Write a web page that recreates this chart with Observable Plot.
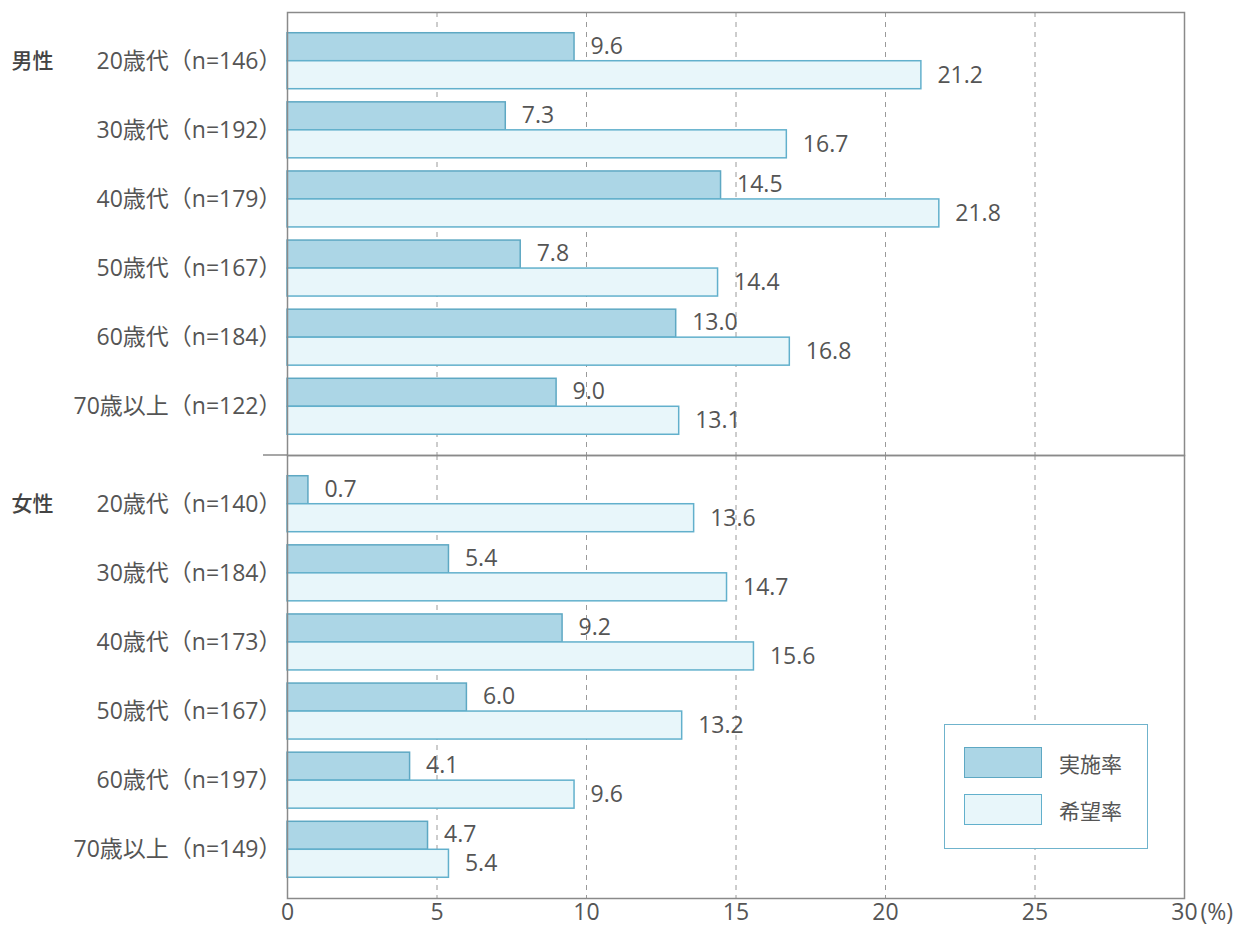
<!DOCTYPE html>
<html>
<head>
<meta charset="utf-8">
<script src="https://cdn.jsdelivr.net/npm/d3@7"></script>
<script src="https://cdn.jsdelivr.net/npm/@observablehq/plot@0.6"></script>
<style>
  html, body { margin: 0; padding: 0; background: #fff; }
  #wrap { position: relative; width: 1243px; height: 926px; font-family: "Open Sans", "Noto Sans CJK JP", sans-serif; color: #555; }
  #legend { position: absolute; left: 944px; top: 724px; width: 202px; height: 123px; border: 1.5px solid #6fb3cc; background: #fff; }
  .item { position: absolute; left: 19px; display: flex; align-items: center; font-size: 21px; font-family: "Noto Sans CJK JP", sans-serif; }
  .sw { width: 78px; height: 31px; box-sizing: border-box; margin-right: 17px; border: 1.5px solid #5ea8c3; }
</style>
</head>
<body>
<div id="wrap"><div id="legend"></div></div>
<script>
const genders = ["男性", "女性"];
const ages = ["20歳代", "30歳代", "40歳代", "50歳代", "60歳代", "70歳以上"];
const nMale = [146, 192, 179, 167, 184, 122];
const nFemale = [140, 184, 173, 167, 197, 149];
const implMale = [9.6, 7.3, 14.5, 7.8, 13.0, 9.0];
const hopeMale = [21.2, 16.7, 21.8, 14.4, 16.8, 13.1];
const implFemale = [0.7, 5.4, 9.2, 6.0, 4.1, 4.7];
const hopeFemale = [13.6, 14.7, 15.6, 13.2, 9.6, 5.4];
const seriesNames = ["実施率", "希望率"];
const xTicks = [0, 5, 10, 15, 20, 25, 30];
const gridTicks = [5, 10, 15, 20, 25];

const colors = {
  "実施率": {fill: "#acd6e6", stroke: "#5ea8c3"},
  "希望率": {fill: "#e8f6fa", stroke: "#62b0cc"}
};

const nBy = {"男性": nMale, "女性": nFemale};
const implBy = {"男性": implMale, "女性": implFemale};
const hopeBy = {"男性": hopeMale, "女性": hopeFemale};

const labels = [];
const implRows = [];
const hopeRows = [];
for (const g of genders) {
  ages.forEach((a, i) => {
    labels.push({gender: g, age: a, text: `${a}（n=${nBy[g][i]}）`});
    implRows.push({gender: g, age: a, value: implBy[g][i]});
    hopeRows.push({gender: g, age: a, value: hopeBy[g][i]});
  });
}

const FONT = "'Open Sans', 'Noto Sans CJK JP', sans-serif";
const W = 1243, H = 926, MT = 12, MB = 28, ML = 287, MR = 59;
const padInner = 0.19, padOuter = 0.3;
const facetH = (H - MT - MB) / genders.length;
const step = facetH / (ages.length - padInner + 2 * padOuter);
const bw = step * (1 - padInner);
const half = bw / 2;
const bottomFacet = genders[genders.length - 1];

const plot = Plot.plot({
  width: W, height: H,
  marginTop: MT, marginBottom: MB, marginLeft: ML, marginRight: MR,
  style: {fontSize: "22px", fontFamily: FONT, color: "#555", background: "transparent"},
  x: {domain: [0, 30], axis: null},
  y: {domain: ages, paddingInner: padInner, paddingOuter: padOuter, round: false, axis: null},
  fy: {domain: genders, padding: 0, round: false, axis: null},
  marks: [
    Plot.ruleX(gridTicks, {stroke: "#9a9a9a", strokeWidth: 1, strokeDasharray: "5,5"}),
    Plot.barX(implRows, {x: "value", y: "age", fy: "gender", fill: colors["実施率"].fill, stroke: colors["実施率"].stroke, strokeWidth: 1.5, insetBottom: half}),
    Plot.barX(hopeRows, {x: "value", y: "age", fy: "gender", fill: colors["希望率"].fill, stroke: colors["希望率"].stroke, strokeWidth: 1.5, insetTop: half}),
    Plot.text(implRows, {x: "value", y: "age", fy: "gender", text: d => d.value.toFixed(1), textAnchor: "start", dx: 16, dy: -half / 2 - 1, fill: "#555", fontSize: 23}),
    Plot.text(hopeRows, {x: "value", y: "age", fy: "gender", text: d => d.value.toFixed(1), textAnchor: "start", dx: 16, dy: half / 2, fill: "#555", fontSize: 23}),
    Plot.text(labels, {y: "age", fy: "gender", text: "text", frameAnchor: "left", textAnchor: "end", dx: -6, fill: "#555", fontSize: 23}),
    Plot.text(genders, {fy: d => d, y: () => ages[0], text: d => d, frameAnchor: "left", textAnchor: "start", dx: -276, fill: "#444", fontSize: 21, fontWeight: 500, fontFamily: "'Noto Sans CJK JP', sans-serif"}),
    Plot.text(xTicks, {x: d => d, fy: () => bottomFacet, text: d => String(d), frameAnchor: "bottom", lineAnchor: "top", dy: 5, textAnchor: "middle", fill: "#555", fontSize: 23}),
    Plot.text(["(%)"], {fy: () => bottomFacet, x: () => 30, text: d => d, frameAnchor: "bottom", lineAnchor: "top", dy: 5, dx: 16, textAnchor: "start", fill: "#555", fontSize: 23}),
    Plot.frame({stroke: "#8a8a8a", strokeWidth: 1.5})
  ]
});

document.getElementById("wrap").prepend(plot);

// extend the divider between the two groups a little to the left
const fyScale = plot.scale("fy");
const xScale = plot.scale("x");
const yDiv = fyScale.apply(bottomFacet);
d3.select(plot).append("line")
  .attr("x1", xScale.apply(0) - 24).attr("x2", xScale.apply(0))
  .attr("y1", yDiv).attr("y2", yDiv)
  .attr("stroke", "#8a8a8a").attr("stroke-width", 1.5);

const legend = d3.select("#legend");
seriesNames.forEach((s, i) => {
  const it = legend.append("div").attr("class", "item").style("top", (22 + i * 47) + "px");
  it.append("div").attr("class", "sw").style("background", colors[s].fill).style("border-color", colors[s].stroke);
  it.append("span").text(s);
});
</script>
</body>
</html>
